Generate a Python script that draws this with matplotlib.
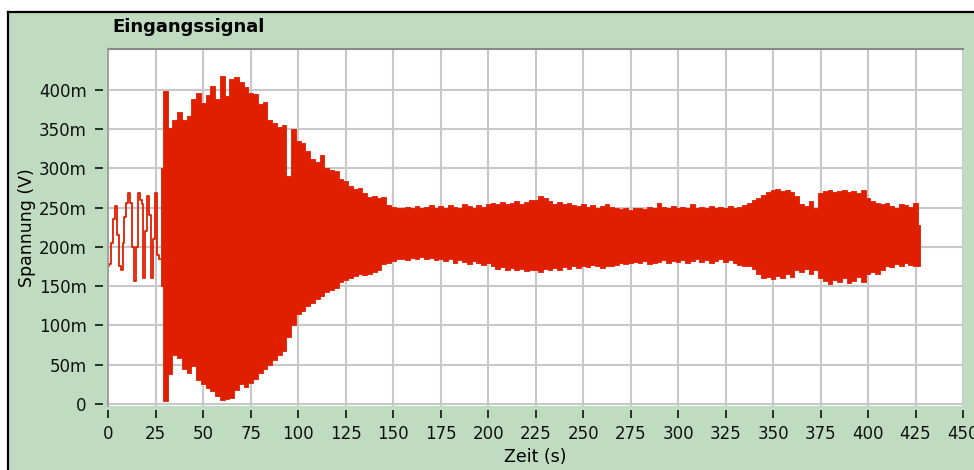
import numpy as np
import matplotlib.pyplot as plt
from matplotlib.patches import Rectangle
from matplotlib.lines import Line2D
from matplotlib.ticker import FuncFormatter

# Anfang des Signals (einzelne Schwingungen sichtbar), Zeit in s, Spannung in mV
t_start = [0, 1, 2, 3, 4, 5, 6, 7, 8, 9, 10, 11, 12, 13,
           14, 15, 16, 17, 18, 19, 20, 21, 22, 23, 24, 25, 26, 27]
u_start = [176, 178, 205, 235, 252, 215, 175, 170, 205, 238, 256, 268, 256, 200,
           157, 200, 268, 260, 255, 160, 220, 265, 240, 160, 210, 268, 190, 185]

t_env = np.arange(27.5, 428.0, 2.5)
u_max = [300, 398, 351, 362, 372, 362, 367, 388, 396, 383,
         393, 405, 388, 417, 392, 414, 416, 410, 403, 396,
         395, 382, 384, 362, 358, 352, 355, 290, 350, 335,
         332, 322, 312, 308, 317, 300, 298, 296, 286, 284,
         277, 273, 275, 268, 264, 265, 262, 264, 253, 251,
         250, 249, 251, 250, 252, 249, 251, 253, 250, 252,
         250, 253, 251, 250, 255, 252, 250, 253, 251, 254,
         256, 255, 257, 254, 256, 258, 255, 257, 259, 260,
         265, 262, 258, 255, 257, 254, 256, 253, 252, 254,
         251, 253, 250, 252, 254, 251, 250, 248, 250, 247,
         249, 250, 248, 251, 250, 256, 251, 250, 252, 250,
         251, 250, 254, 250, 251, 249, 252, 250, 251, 250,
         252, 250, 251, 253, 256, 260, 262, 266, 270, 272,
         273, 271, 272, 270, 265, 255, 252, 258, 250, 268,
         271, 272, 270, 271, 272, 270, 271, 268, 272, 262,
         258, 256, 254, 256, 252, 250, 255, 253, 251, 256,
         228]
u_min = [150, 4, 38, 62, 58, 45, 40, 48, 30, 26,
         20, 16, 10, 5, 6, 8, 18, 25, 22, 27,
         32, 40, 44, 50, 56, 62, 68, 85, 100, 115,
         118, 125, 128, 133, 138, 142, 145, 148, 155, 158,
         160, 163, 165, 164, 165, 168, 170, 178, 180, 182,
         184, 185, 183, 186, 185, 187, 184, 186, 183, 185,
         182, 184, 180, 183, 181, 178, 182, 180, 177, 179,
         176, 172, 174, 171, 173, 170, 172, 169, 171, 170,
         168, 172, 170, 173, 171, 174, 172, 175, 173, 176,
         174, 177, 175, 173, 176, 175, 177, 179, 178, 180,
         181, 179, 182, 178, 180, 181, 183, 180, 182, 181,
         183, 180, 182, 184, 181, 183, 180, 182, 184, 181,
         183, 180, 177, 176, 175, 172, 165, 160, 162, 159,
         163, 160, 165, 162, 170, 168, 172, 166, 170, 160,
         156, 153, 158, 155, 160, 154, 157, 162, 155, 165,
         168, 165, 170, 176, 174, 178, 175, 180, 177, 176,
         176]

x_ticks = list(range(0, 451, 25))
y_ticks = list(range(0, 401, 50))

red = '#e01e00'
green = '#c0dcc0'

fig = plt.figure(figsize=(9.74, 4.7), dpi=100, facecolor=green)
# weisser Rand oben/links, schwarze Linie am Panelrand
fig.patches.append(Rectangle((0, 1 - 12 / 470), 1, 12 / 470, transform=fig.transFigure,
                             facecolor='white', edgecolor='none', zorder=-5))
fig.patches.append(Rectangle((0, 0), 8 / 974, 1, transform=fig.transFigure,
                             facecolor='white', edgecolor='none', zorder=-5))
fig.lines.append(Line2D([8 / 974, 1], [1 - 12 / 470] * 2, transform=fig.transFigure,
                        color='black', lw=1.6))
fig.lines.append(Line2D([8 / 974] * 2, [0, 1 - 12 / 470], transform=fig.transFigure,
                        color='black', lw=1.6))

ax = fig.add_axes([108.3 / 974, 64 / 470, (963 - 108.3) / 974, (406 - 49) / 470])
ax.set_facecolor('white')

ax.plot(t_start, u_start, color=red, lw=1.3, drawstyle='steps-mid', zorder=3)
ax.fill_between(t_env, u_min, u_max, step='mid', color=red, lw=0.6, zorder=3)

ax.set_xlim(0, 450)
ax.set_ylim(-2.5, 451.7)
ax.set_xticks(x_ticks)
ax.set_yticks(y_ticks)
ax.yaxis.set_major_formatter(FuncFormatter(lambda v, p: '0' if v == 0 else f'{int(round(v))}m'))

ax.grid(True, color='#c8c8c8', lw=1.5, zorder=1)
ax.set_axisbelow(True)

for s in ax.spines.values():
    s.set_visible(False)
ax.spines['left'].set_position(('outward', 4))
ax.spines['bottom'].set_position(('outward', 3))
ax.tick_params(axis='both', direction='out', length=5.5, width=1.1, color='black',
               labelsize=12, labelcolor='#111111')
ax.tick_params(axis='y', pad=6)
ax.tick_params(axis='x', pad=5)

# Rahmen der Zeichenflaeche (oben und links dunkler)
ax.plot([0, 1], [1, 1], transform=ax.transAxes, color='#888888', lw=1.5, clip_on=False, zorder=5)
ax.plot([0, 0], [0, 1], transform=ax.transAxes, color='#999999', lw=1.2, clip_on=False, zorder=5)

ax.set_xlabel('Zeit (s)', fontsize=12.5, labelpad=4)
ax.set_ylabel('Spannung (V)', fontsize=12.5, labelpad=2)
fig.text(112 / 974, 1 - 27 / 470, 'Eingangssignal', fontsize=13, fontweight='bold',
         ha='left', va='center')

fig.savefig('out.png', dpi=100, facecolor=fig.get_facecolor())
